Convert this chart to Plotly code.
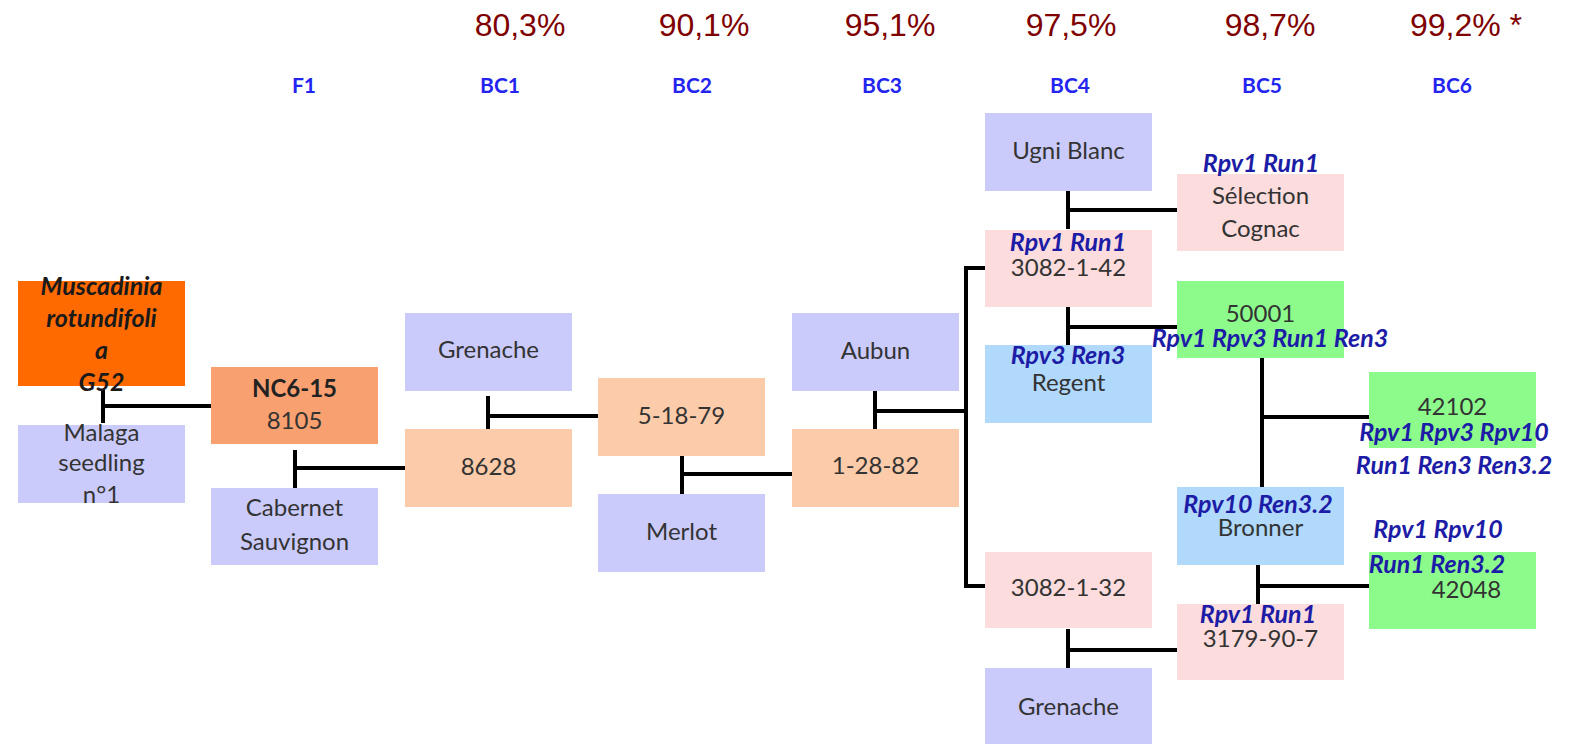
import plotly.graph_objects as go

# ---------------- data ----------------
generations = ["F1", "BC1", "BC2", "BC3", "BC4", "BC5", "BC6"]
recurrent_pct = ["80,3%", "90,1%", "95,1%", "97,5%", "98,7%", "99,2% *"]

node_ids = ["musc", "malaga", "nc615", "cabsauv", "gren1", "n8628", "n51879", "merlot",
            "aubun", "n12882", "ugni", "n3082142", "regent", "n3082132", "gren2",
            "selcog", "n50001", "bronner", "n3179907", "n42102", "n42048"]
node_kind = ["muscadinia", "vinifera", "f1", "vinifera", "vinifera", "bc", "bc", "vinifera",
             "vinifera", "bc", "vinifera", "sel", "resist", "sel", "vinifera",
             "sel", "new", "resist", "sel", "new", "new"]
node_lines = [["Muscadinia", "rotundifoli", "a", "G52"], ["Malaga", "seedling", "n°1"],
              ["NC6-15", "8105"], ["Cabernet", "Sauvignon"], ["Grenache"], ["8628"],
              ["5-18-79"], ["Merlot"], ["Aubun"], ["1-28-82"], ["Ugni Blanc"],
              ["3082-1-42"], ["Regent"], ["3082-1-32"], ["Grenache"],
              ["Sélection", "Cognac"], ["50001"], ["Bronner"], ["3179-90-7"],
              ["42102"], ["42048"]]
node_genes = {"n3082142": ["Rpv1 Run1"], "regent": ["Rpv3 Ren3"], "selcog": ["Rpv1 Run1"],
              "n50001": ["Rpv1 Rpv3 Run1 Ren3"], "n42102": ["Rpv1 Rpv3 Rpv10", "Run1 Ren3 Ren3.2"],
              "bronner": ["Rpv10 Ren3.2"], "n3179907": ["Rpv1 Run1"],
              "n42048": ["Rpv1 Rpv10", "Run1 Ren3.2"]}
# crosses: (parent A, parent B, offspring)
crosses = [("musc", "malaga", "nc615"), ("nc615", "cabsauv", "n8628"),
           ("gren1", "n8628", "n51879"), ("n51879", "merlot", "n12882"),
           ("aubun", "n12882", "n3082142"), ("ugni", "n3082142", "selcog"),
           ("n3082142", "regent", "n50001"), ("n50001", "bronner", "n42102"),
           ("bronner", "n3179907", "n42048"), ("n3082132", "gren2", "n3179907")]

# ---------------- layout (positions, sizes, styles) ----------------
box_x0 = [18, 18, 211, 211, 405, 405, 598, 598, 792, 792, 985, 985, 985, 985, 985,
          1177, 1177, 1177, 1177, 1369, 1369]
box_y0 = [281, 425, 367, 488, 313, 429, 378, 494, 313, 429, 113, 230, 345, 552, 668,
          174, 281, 487, 604, 372, 552]
box_h = [105, 78, 77, 77, 78, 78, 78, 78, 78, 78, 78, 77, 78, 76, 78,
         77, 77, 78, 76, 76, 77]
box_w = 167
kind_color = {"muscadinia": "#FF6A00", "vinifera": "#CBCBFB", "f1": "#F9A070",
              "bc": "#FCCBAA", "sel": "#FCDCDC", "resist": "#B0D9FC", "new": "#8CFB8C"}
# text line y positions per node
text_y = {"musc": [289, 321, 353, 385], "malaga": [435, 465, 497], "nc615": [391, 423],
          "cabsauv": [510, 544], "gren1": [352], "n8628": [469], "n51879": [418],
          "merlot": [534], "aubun": [353], "n12882": [468], "ugni": [153],
          "n3082142": [270], "regent": [385], "n3082132": [590], "gren2": [709],
          "selcog": [198, 231], "n50001": [316], "bronner": [530], "n3179907": [641],
          "n42102": [409], "n42048": [592]}
gene_pos = {"n3082142": [(1068, 245)], "regent": [(1068, 358)], "selcog": [(1261, 166)],
            "n50001": [(1270, 341)], "n42102": [(1454, 435), (1454, 468)],
            "bronner": [(1258, 507)], "n3179907": [(1258, 617)],
            "n42048": [(1438, 532), (1437, 567)]}
text_dx = {"n42048": 14}
# connector geometry: (x of vertical, y top, y bottom, y of horizontal, x end)
conn = [(103, 390, 423, 406, 211), (295, 450, 488, 468, 405), (488, 396, 429, 416, 598),
        (682, 456, 494, 474, 792), (875, 391, 429, 411, 966), (1068, 191, 229, 210, 1177),
        (1068, 307, 345, 327, 1177), (1262, 358, 487, 417, 1369),
        (1258, 565, 604, 586, 1369), (1068, 629, 668, 650, 1177)]
bracket = (966, 268, 586, 985)  # BC3 -> two BC4 siblings
gen_x = [304, 500, 692, 882, 1070, 1262, 1452]
pct_x = [520, 704, 890, 1071, 1270, 1466]

fig = go.Figure()

# boxes
for i, nid in enumerate(node_ids):
    fig.add_shape(type="rect", xref="x", yref="y", x0=box_x0[i], x1=box_x0[i] + box_w,
                  y0=box_y0[i], y1=box_y0[i] + box_h[i],
                  fillcolor=kind_color[node_kind[i]], line=dict(width=0), layer="below")

# connectors
lx, ly = [], []
for (vx, yt, yb, hy, xe) in conn:
    lx += [vx, vx, None, vx, xe, None]
    ly += [yt, yb, None, hy, hy, None]
bx, byt, byb, bxe = bracket
lx += [bxe, bx, bx, bxe, None, bx, 959]
ly += [byt, byt, byb, byb, None, 411, 411]
fig.add_trace(go.Scatter(x=lx, y=ly, mode="lines", line=dict(color="black", width=4),
                         hoverinfo="skip", showlegend=False))

# node names
reg_x, reg_y, reg_t = [], [], []
b_x, b_y, b_t = [], [], []
bi_x, bi_y, bi_t = [], [], []
for i, nid in enumerate(node_ids):
    cx = box_x0[i] + box_w / 2 + text_dx.get(nid, 0)
    for j, (t, y) in enumerate(zip(node_lines[i], text_y[nid])):
        if nid == "musc":
            bi_x.append(cx); bi_y.append(y); bi_t.append(t)
        elif nid == "nc615" and j == 0:
            b_x.append(cx); b_y.append(y); b_t.append(t)
        else:
            reg_x.append(cx); reg_y.append(y); reg_t.append(t)
fig.add_trace(go.Scatter(x=reg_x, y=reg_y, text=reg_t, mode="text", showlegend=False,
                         textfont=dict(family="Lato", size=24, color="#333333")))
fig.add_trace(go.Scatter(x=b_x, y=b_y, text=["<b>%s</b>" % t for t in b_t], mode="text",
                         showlegend=False, textfont=dict(family="Lato", size=24, color="#222222")))
fig.add_trace(go.Scatter(x=bi_x, y=bi_y, text=["<b><i>%s</i></b>" % t for t in bi_t], mode="text",
                         showlegend=False, textfont=dict(family="Lato", size=25, color="#1a1a1a")))

# resistance genes
gx, gy, gt = [], [], []
for nid, lines in node_genes.items():
    for t, (x, y) in zip(lines, gene_pos[nid]):
        gx.append(x); gy.append(y); gt.append("<b><i>%s</i></b>" % t)
fig.add_trace(go.Scatter(x=gx, y=gy, text=gt, mode="text", showlegend=False,
                         textfont=dict(family="Lato", size=25, color="#1C1CA6")))

# generation labels
fig.add_trace(go.Scatter(x=gen_x, y=[88] * len(generations),
                         text=["<b>%s</b>" % g for g in generations], mode="text",
                         showlegend=False, textfont=dict(family="Lato", size=21, color="#2424F0")))
fig.add_trace(go.Scatter(x=pct_x, y=[28] * len(recurrent_pct), text=recurrent_pct, mode="text",
                         showlegend=False,
                         textfont=dict(family="Liberation Sans", size=32, color="#800000")))

fig.update_layout(width=1573, height=744, margin=dict(l=0, r=0, t=0, b=0),
                  plot_bgcolor="white", paper_bgcolor="white",
                  xaxis=dict(range=[0, 1573], visible=False, fixedrange=True),
                  yaxis=dict(range=[744, 0], visible=False, fixedrange=True))
fig.write_html("out.html", config={"displayModeBar": False},
               post_script="document.body.style.margin='0';")
